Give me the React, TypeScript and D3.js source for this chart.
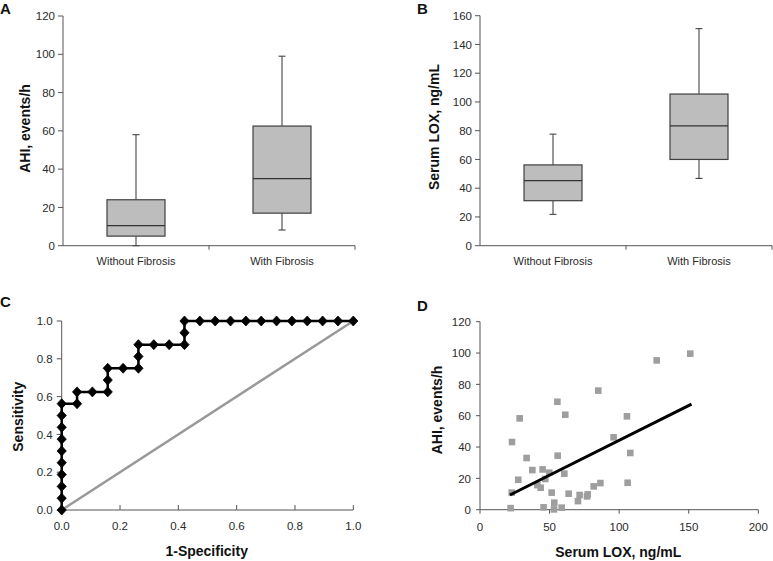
import React from "react";
import * as d3 from "d3";

// ---------- DATA ----------
const boxCategories = ["Without Fibrosis", "With Fibrosis"];
// [min, q1, median, q3, max]
const ahiBoxes = [
  [0, 5, 10.5, 24, 58],
  [8.2, 17, 35, 62.5, 99],
];
const loxBoxes = [
  [21.8, 31.3, 45.3, 56.2, 77.6],
  [46.8, 60, 83.4, 105.5, 151],
];
const ahiTicks = [0, 20, 40, 60, 80, 100, 120];
const loxTicks = [0, 20, 40, 60, 80, 100, 120, 140, 160];

// ROC curve (1-specificity, sensitivity): 19 negatives, 16 positives
const rocFpr = [
  0, 0, 0, 0, 0, 0, 0, 0, 0, 0,
  1 / 19, 1 / 19, 2 / 19, 3 / 19, 3 / 19, 3 / 19, 4 / 19, 5 / 19, 5 / 19, 5 / 19,
  6 / 19, 7 / 19, 8 / 19, 8 / 19, 8 / 19,
  9 / 19, 10 / 19, 11 / 19, 12 / 19, 13 / 19, 14 / 19, 15 / 19, 16 / 19, 17 / 19, 18 / 19, 19 / 19,
];
const rocTpr = [
  0, 1 / 16, 2 / 16, 3 / 16, 4 / 16, 5 / 16, 6 / 16, 7 / 16, 8 / 16, 9 / 16,
  9 / 16, 10 / 16, 10 / 16, 10 / 16, 11 / 16, 12 / 16, 12 / 16, 12 / 16, 13 / 16, 14 / 16,
  14 / 16, 14 / 16, 14 / 16, 15 / 16, 1,
  1, 1, 1, 1, 1, 1, 1, 1, 1, 1, 1,
];
const rocTicks = [0, 0.2, 0.4, 0.6, 0.8, 1.0];

// Scatter: serum LOX vs AHI
const scatterLox = [
  22, 23, 22.8, 27.5, 28.5, 33.5, 37.6, 41.2, 43.6, 45, 45.7, 46.9, 49.8, 51.5, 53.4, 53.2, 55.6,
  55.8, 58.7, 60.6, 61.3, 63.7, 70.4, 71.6, 76.9, 77.4, 81.7, 85, 86.5, 96, 105.6, 106.1, 108, 127,
  151.1,
];
const scatterAhi = [
  1, 43.2, 10.9, 19.1, 58.3, 33, 25.3, 15.7, 14, 25.7, 1.5, 19.6, 23.6, 10.9, 4.5, 0.2, 68.9, 34.5,
  1.3, 23, 60.6, 10.2, 5.5, 9.4, 8.5, 9.8, 14.9, 76, 17, 46.2, 59.6, 17.2, 36.2, 95.3, 99.6,
];
const fitLox = [21.5, 152];
const fitAhi = [9.4, 67.4];
const scatterXTicks = [0, 50, 100, 150, 200];
const scatterYTicks = [0, 20, 40, 60, 80, 100, 120];

// ---------- STYLE ----------
const FONT = "'Liberation Sans', Arial, sans-serif";
const AXIS = "#555";
const TICKTXT = "#2a2a2a";

function BoxPanel({ x0, x1, y0, y1, max, ticks, boxes, title, titleX, titleY, letter, letterX }) {
  const y = d3.scaleLinear().domain([0, max]).range([y0, y1]);
  const x = d3.scaleBand().domain(boxCategories).range([x0, x1]);
  const bw = 58;
  return (
    <g>
      <text x={letterX} y={14} fontFamily={FONT} fontWeight="bold" fontSize={15} fill="#111">
        {letter}
      </text>
      <line x1={x0} x2={x0} y1={y0} y2={y1} stroke={AXIS} />
      <line x1={x0} x2={x1} y1={y0} y2={y0} stroke={AXIS} />
      {ticks.map((t) => (
        <g key={t}>
          <line x1={x0 - 5} x2={x0} y1={y(t)} y2={y(t)} stroke={AXIS} />
          <text x={x0 - 8} y={y(t)} dy="0.36em" textAnchor="end" fontFamily={FONT} fontSize={11.5} fill={TICKTXT}>
            {t}
          </text>
        </g>
      ))}
      {[x0 + x.bandwidth(), x1].map((p, i) => (
        <line key={i} x1={p} x2={p} y1={y0} y2={y0 + 4} stroke={AXIS} />
      ))}
      {boxCategories.map((c, i) => {
        const cx = (x(c) as number) + x.bandwidth() / 2;
        const [mn, q1, md, q3, mx] = boxes[i];
        return (
          <g key={c}>
            <line x1={cx} x2={cx} y1={y(q3)} y2={y(mx)} stroke="#444" strokeWidth={1.1} />
            <line x1={cx} x2={cx} y1={y(q1)} y2={y(mn)} stroke="#444" strokeWidth={1.1} />
            <line x1={cx - 3.5} x2={cx + 3.5} y1={y(mx)} y2={y(mx)} stroke="#444" strokeWidth={1.1} />
            <line x1={cx - 3.5} x2={cx + 3.5} y1={y(mn)} y2={y(mn)} stroke="#444" strokeWidth={1.1} />
            <rect x={cx - bw / 2} y={y(q3)} width={bw} height={y(q1) - y(q3)} fill="#bdbdbd" stroke="#404040" strokeWidth={1.2} />
            <line x1={cx - bw / 2} x2={cx + bw / 2} y1={y(md)} y2={y(md)} stroke="#333" strokeWidth={1.2} />
            <text x={cx} y={265} textAnchor="middle" fontFamily={FONT} fontSize={11} fill={TICKTXT}>
              {c}
            </text>
          </g>
        );
      })}
      <text
        transform={`translate(${titleX},${titleY}) rotate(-90)`}
        textAnchor="middle"
        fontFamily={FONT}
        fontWeight="bold"
        fontSize={14}
        fill="#111"
      >
        {title}
      </text>
    </g>
  );
}

function RocPanel() {
  const x = d3.scaleLinear().domain([0, 1]).range([61.7, 353.3]);
  const y = d3.scaleLinear().domain([0, 1]).range([510, 321]);
  const pts = rocFpr.map((f, i) => [x(f), y(rocTpr[i])] as [number, number]);
  const line = d3.line()(pts) as string;
  const diamond = (cx: number, cy: number) =>
    `M${cx},${cy - 5}L${cx + 4.6},${cy}L${cx},${cy + 5}L${cx - 4.6},${cy}Z`;
  return (
    <g>
      <text x={0} y={307} fontFamily={FONT} fontWeight="bold" fontSize={15} fill="#111">
        C
      </text>
      <line x1={x(0)} x2={x(0)} y1={y(0)} y2={y(1)} stroke={AXIS} />
      <line x1={x(0)} x2={x(1)} y1={y(0)} y2={y(0)} stroke={AXIS} />
      {rocTicks.map((t) => (
        <g key={t}>
          <line x1={x(0) - 5} x2={x(0)} y1={y(t)} y2={y(t)} stroke={AXIS} />
          <text x={x(0) - 9} y={y(t)} dy="0.36em" textAnchor="end" fontFamily={FONT} fontSize={11.5} fill={TICKTXT}>
            {d3.format(".1f")(t)}
          </text>
          <line x1={x(t)} x2={x(t)} y1={y(0)} y2={y(0) - 5} stroke={AXIS} />
          <text x={x(t)} y={530} textAnchor="middle" fontFamily={FONT} fontSize={11.5} fill={TICKTXT}>
            {d3.format(".1f")(t)}
          </text>
        </g>
      ))}
      <line x1={x(0)} y1={y(0)} x2={x(1)} y2={y(1)} stroke="#999" strokeWidth={2.5} />
      <path d={line} fill="none" stroke="#000" strokeWidth={2.5} />
      {pts.map(([px, py], i) => (
        <path key={i} d={diamond(px, py)} fill="#000" stroke="#000" strokeWidth={0.8} strokeLinejoin="round" />
      ))}
      <text x={206.7} y={556} textAnchor="middle" fontFamily={FONT} fontWeight="bold" fontSize={14} fill="#111">
        1-Specificity
      </text>
      <text transform="translate(23,416.7) rotate(-90)" textAnchor="middle" fontFamily={FONT} fontWeight="bold" fontSize={14} fill="#111">
        Sensitivity
      </text>
    </g>
  );
}

function ScatterPanel() {
  const x = d3.scaleLinear().domain([0, 200]).range([480, 758.3]);
  const y = d3.scaleLinear().domain([0, 120]).range([509.7, 321.7]);
  const s = 6.6;
  return (
    <g>
      <text x={417} y={310.5} fontFamily={FONT} fontWeight="bold" fontSize={15} fill="#111">
        D
      </text>
      <line x1={x(0)} x2={x(0)} y1={y(0)} y2={y(120)} stroke={AXIS} />
      <line x1={x(0)} x2={x(200)} y1={y(0)} y2={y(0)} stroke={AXIS} />
      {scatterYTicks.map((t) => (
        <g key={t}>
          <line x1={x(0) - 4} x2={x(0)} y1={y(t)} y2={y(t)} stroke={AXIS} />
          <text x={x(0) - 9} y={y(t)} dy="0.36em" textAnchor="end" fontFamily={FONT} fontSize={11.5} fill={TICKTXT}>
            {t}
          </text>
        </g>
      ))}
      {scatterXTicks.map((t) => (
        <g key={t}>
          <line x1={x(t)} x2={x(t)} y1={y(0)} y2={y(0) + 4} stroke={AXIS} />
          <text x={x(t)} y={531} textAnchor="middle" fontFamily={FONT} fontSize={11.5} fill={TICKTXT}>
            {t}
          </text>
        </g>
      ))}
      {scatterLox.map((v, i) => (
        <rect key={i} x={x(v) - s / 2} y={y(scatterAhi[i]) - s / 2} width={s} height={s} fill="#9e9e9e" />
      ))}
      <line x1={x(fitLox[0])} y1={y(fitAhi[0])} x2={x(fitLox[1])} y2={y(fitAhi[1])} stroke="#000" strokeWidth={3} />
      <text x={618.3} y={557} textAnchor="middle" fontFamily={FONT} fontWeight="bold" fontSize={14} fill="#111">
        Serum LOX, ng/mL
      </text>
      <text transform="translate(441.5,410) rotate(-90)" textAnchor="middle" fontFamily={FONT} fontWeight="bold" fontSize={14} fill="#111">
        AHI, events/h
      </text>
    </g>
  );
}

export default function App() {
  return (
    <svg
      width={773}
      height={561}
      style={{ position: "absolute", left: 0, top: 0, background: "#fff" }}
    >
      <rect width={773} height={561} fill="#fff" />
      <BoxPanel
        x0={63}
        x1={355}
        y0={245.7}
        y1={16}
        max={120}
        ticks={ahiTicks}
        boxes={ahiBoxes}
        title="AHI, events/h"
        titleX={30}
        titleY={128.5}
        letter="A"
        letterX={0}
      />
      <BoxPanel
        x0={480}
        x1={772}
        y0={245.7}
        y1={15.7}
        max={160}
        ticks={loxTicks}
        boxes={loxBoxes}
        title="Serum LOX, ng/mL"
        titleX={438.5}
        titleY={127}
        letter="B"
        letterX={417}
      />
      <RocPanel />
      <ScatterPanel />
    </svg>
  );
}
